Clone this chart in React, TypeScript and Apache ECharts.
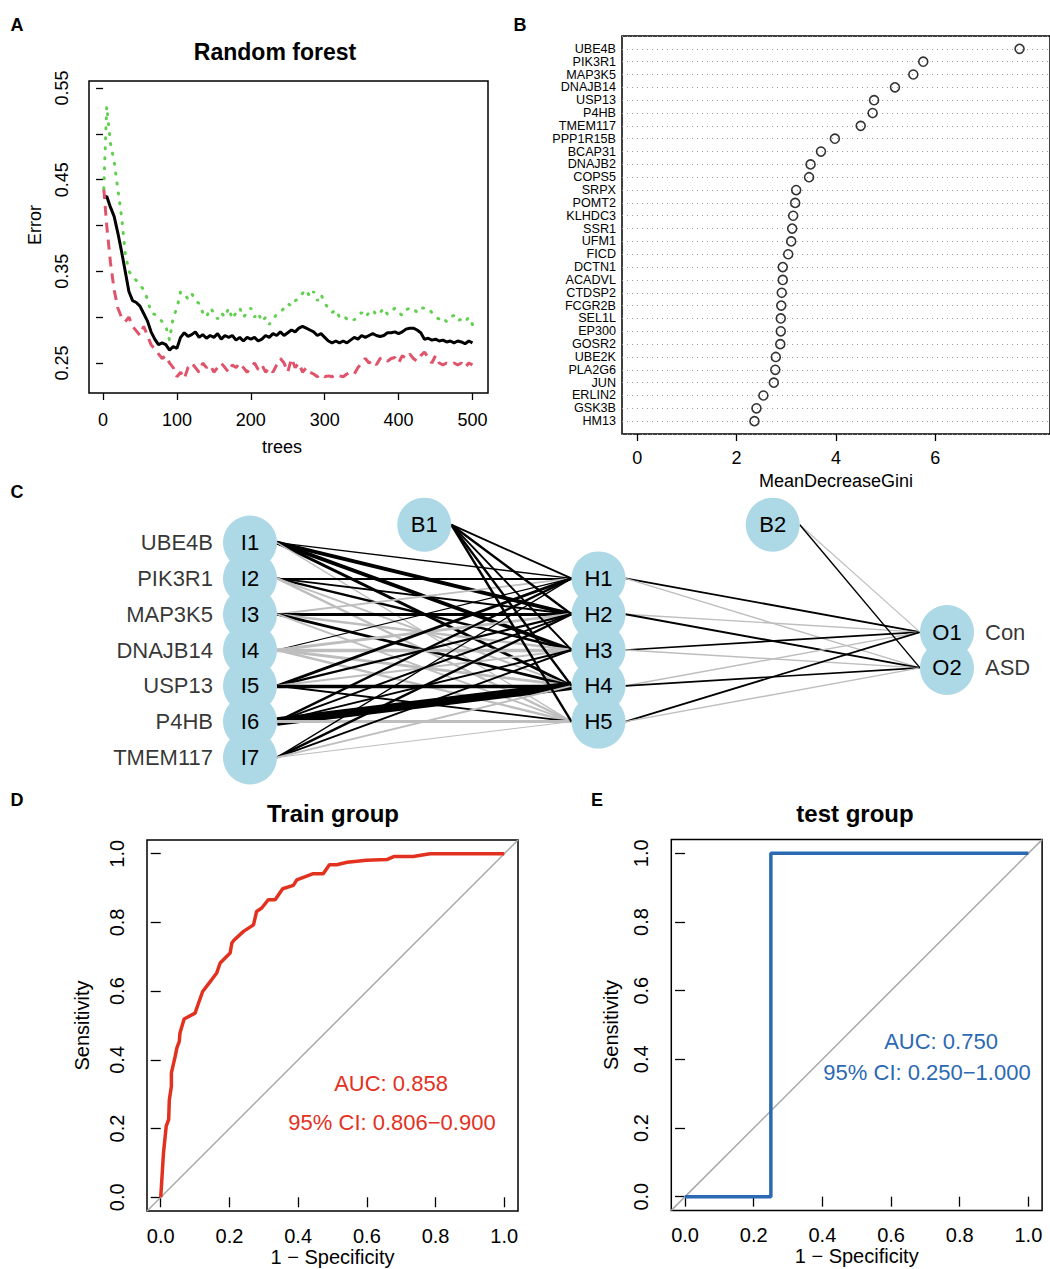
import React, { useEffect, useRef } from 'react';
import * as echarts from 'echarts';

const FONT = '"Liberation Sans", Arial, Helvetica, sans-serif';

// ---------- Panel A: Random forest error ----------
const TREES = [1, 5, 10, 15, 20, 25, 30, 35, 40, 45, 50, 55, 60, 65, 70, 75, 80, 85, 90, 95,
  100, 105, 110, 115, 120, 125, 130, 135, 140, 145, 150, 155, 160, 165, 170, 175, 180, 185, 190, 195,
  200, 205, 210, 215, 220, 225, 230, 235, 240, 245, 250, 255, 260, 265, 270, 275, 280, 285, 290, 295,
  300, 305, 310, 315, 320, 325, 330, 335, 340, 345, 350, 355, 360, 365, 370, 375, 380, 385, 390, 395,
  400, 405, 410, 415, 420, 425, 430, 435, 440, 445, 450, 455, 460, 465, 470, 475, 480, 485, 490, 495, 500];
const OOB_ERR = [0.430, 0.432, 0.420, 0.410, 0.392, 0.372, 0.350, 0.328, 0.318, 0.316,
  0.312, 0.304, 0.296, 0.284, 0.276, 0.270, 0.272, 0.270, 0.264, 0.268,
  0.266, 0.278, 0.283, 0.279, 0.281, 0.284, 0.278, 0.281, 0.277, 0.280,
  0.278, 0.282, 0.276, 0.280, 0.278, 0.280, 0.275, 0.278, 0.274, 0.278,
  0.276, 0.278, 0.274, 0.276, 0.280, 0.278, 0.282, 0.280, 0.284, 0.280,
  0.283, 0.286, 0.284, 0.288, 0.290, 0.288, 0.286, 0.284, 0.280, 0.282,
  0.278, 0.274, 0.272, 0.274, 0.272, 0.274, 0.272, 0.275, 0.278, 0.276,
  0.280, 0.278, 0.280, 0.282, 0.280, 0.279, 0.280, 0.283, 0.283, 0.284,
  0.282, 0.284, 0.287, 0.288, 0.288, 0.286, 0.283, 0.276, 0.277, 0.275,
  0.276, 0.274, 0.275, 0.273, 0.274, 0.272, 0.274, 0.273, 0.271, 0.274, 0.272];
const CON_ERR = [0.440, 0.400, 0.360, 0.330, 0.310, 0.300, 0.295, 0.300, 0.290, 0.285,
  0.280, 0.290, 0.280, 0.270, 0.265, 0.260, 0.255, 0.258, 0.250, 0.245,
  0.235, 0.240, 0.233, 0.245, 0.250, 0.245, 0.240, 0.250, 0.245, 0.248,
  0.240, 0.245, 0.250, 0.245, 0.240, 0.248, 0.245, 0.250, 0.245, 0.240,
  0.245, 0.250, 0.243, 0.248, 0.240, 0.245, 0.240, 0.248, 0.255, 0.250,
  0.240, 0.255, 0.245, 0.250, 0.240, 0.245, 0.240, 0.238, 0.235, 0.238,
  0.235, 0.236, 0.235, 0.238, 0.236, 0.235, 0.238, 0.240, 0.238, 0.245,
  0.250, 0.255, 0.250, 0.253, 0.248, 0.255, 0.256, 0.252, 0.255, 0.256,
  0.250, 0.258, 0.255, 0.260, 0.255, 0.252, 0.258, 0.262, 0.256, 0.250,
  0.258, 0.250, 0.248, 0.250, 0.248, 0.250, 0.248, 0.250, 0.245, 0.250, 0.248];
const ASD_ERR = [0.440, 0.530, 0.490, 0.470, 0.440, 0.410, 0.370, 0.350, 0.345, 0.340,
  0.335, 0.330, 0.320, 0.305, 0.303, 0.300, 0.295, 0.290, 0.275, 0.300,
  0.310, 0.328, 0.325, 0.320, 0.326, 0.318, 0.315, 0.305, 0.300, 0.310,
  0.305, 0.298, 0.305, 0.300, 0.310, 0.298, 0.305, 0.310, 0.300, 0.305,
  0.310, 0.300, 0.305, 0.295, 0.300, 0.292, 0.298, 0.303, 0.305, 0.310,
  0.315, 0.312, 0.318, 0.320, 0.326, 0.330, 0.322, 0.328, 0.318, 0.325,
  0.315, 0.310, 0.305, 0.308, 0.300, 0.302, 0.298, 0.300, 0.297, 0.302,
  0.305, 0.300, 0.305, 0.308, 0.302, 0.305, 0.310, 0.303, 0.306, 0.310,
  0.305, 0.302, 0.308, 0.310, 0.310, 0.305, 0.310, 0.310, 0.310, 0.305,
  0.300, 0.298, 0.300, 0.295, 0.300, 0.302, 0.296, 0.298, 0.295, 0.300, 0.292];
const A_X_TICKS = [0, 100, 200, 300, 400, 500];
const A_Y_TICKS = [0.25, 0.30, 0.35, 0.40, 0.45, 0.50, 0.55];
const A_Y_LABELS = [0.25, 0.35, 0.45, 0.55];

// ---------- Panel B: MeanDecreaseGini ----------
const GENES = ['UBE4B', 'PIK3R1', 'MAP3K5', 'DNAJB14', 'USP13', 'P4HB', 'TMEM117', 'PPP1R15B',
  'BCAP31', 'DNAJB2', 'COPS5', 'SRPX', 'POMT2', 'KLHDC3', 'SSR1', 'UFM1', 'FICD', 'DCTN1',
  'ACADVL', 'CTDSP2', 'FCGR2B', 'SEL1L', 'EP300', 'GOSR2', 'UBE2K', 'PLA2G6', 'JUN', 'ERLIN2',
  'GSK3B', 'HM13'];
const GINI = [7.70, 5.76, 5.56, 5.19, 4.77, 4.74, 4.50, 3.98, 3.70, 3.49, 3.46, 3.20, 3.18, 3.14,
  3.12, 3.10, 3.04, 2.93, 2.93, 2.91, 2.90, 2.89, 2.89, 2.88, 2.79, 2.78, 2.75, 2.54, 2.40, 2.36];
const B_X_TICKS = [0, 2, 4, 6];

// ---------- Panel C: neural network ----------
const INPUT_NAMES = ['UBE4B', 'PIK3R1', 'MAP3K5', 'DNAJB14', 'USP13', 'P4HB', 'TMEM117'];
const OUTPUT_NAMES = ['Con', 'ASD'];
const N_HIDDEN = 5;
const W_IH = [
  [1.5, 4, 4, 3, -1.5],
  [2, 2, 2.5, -2, -2.5],
  [-2, 3, -2.5, 3, -2],
  [1.2, -3, -3.5, -3, -2.5],
  [3, 2.5, -2, 3.5, 2],
  [2.5, 2, 2, 9, -3],
  [1.5, 2.5, 2, -2, -1],
];
const W_B1H = [2, 2.5, 2, 2.5, 2.5];
const W_HO = [[2, -1.5], [-1.5, 2], [1.8, -1.5], [-1.5, 1.8], [1.8, -1.5]];
const W_B2O = [-1.2, 1.5];

// ---------- Panels D, E: ROC ----------
const TRAIN_FPR = [0, 0.008, 0.016, 0.023, 0.025, 0.031, 0.031, 0.042, 0.047, 0.054, 0.056, 0.068, 0.100,
  0.105, 0.122, 0.148, 0.163, 0.173, 0.202, 0.207, 0.213, 0.241, 0.270, 0.279, 0.294, 0.313, 0.333, 0.355,
  0.386, 0.396, 0.444, 0.473, 0.491, 0.512, 0.543, 0.599, 0.658, 0.680, 0.735, 0.784, 1.0];
const TRAIN_SENS = [0, 0.129, 0.207, 0.226, 0.284, 0.323, 0.362, 0.410, 0.435, 0.454, 0.478, 0.519, 0.536,
  0.551, 0.599, 0.633, 0.653, 0.682, 0.711, 0.740, 0.748, 0.774, 0.793, 0.832, 0.842, 0.866, 0.866, 0.898,
  0.908, 0.924, 0.942, 0.942, 0.968, 0.968, 0.975, 0.981, 0.983, 0.992, 0.992, 1.0, 1.0];
const TEST_FPR = [0, 0.25, 0.25, 1];
const TEST_SENS = [0, 0, 1, 1];
const ROC_TICKS = [0, 0.2, 0.4, 0.6, 0.8, 1.0];
const ROC_LIM = [-0.04, 1.04];

const RED = '#E3311F';
const BLUE = '#2B69B2';

const zip = (a: number[], b: number[]) => a.map((v, i) => [v, b[i]]);

function txt(x: number, y: number, text: string, size: number, o: any = {}) {
  return {
    type: 'text', x, y, rotation: o.rotation || 0, z: 20,
    style: {
      text, fill: o.fill || '#000',
      font: `${o.bold ? 'bold ' : ''}${size}px ${FONT}`,
      textAlign: o.align || 'center', textVerticalAlign: 'middle',
    },
  };
}

const tickStyle = { show: true, length: 7, lineStyle: { color: '#000', width: 1.3 } };

function buildOption() {
  // network layout (layer index on x, centred node index on y)
  const R = 27 / 348.5;
  const off = (n: number, i: number) => i - (n - 1) / 2;
  const inNodes = INPUT_NAMES.map((nm, i) => ({ name: 'I' + (i + 1), value: [0, off(INPUT_NAMES.length, i)] }));
  const hidNodes = Array.from({ length: N_HIDDEN }, (_, j) => ({ name: 'H' + (j + 1), value: [1, off(N_HIDDEN, j)] }));
  const outNodes = OUTPUT_NAMES.map((nm, k) => ({ name: 'O' + (k + 1), value: [2, off(OUTPUT_NAMES.length, k)] }));
  const biasY = -INPUT_NAMES.length / 2;
  const biasNodes = [{ name: 'B1', value: [0.5, biasY] }, { name: 'B2', value: [1.5, biasY] }];
  const edge = (a: number[], b: number[], w: number) => ({
    coords: [[a[0] + R, a[1]], [b[0] - R, b[1]]],
    lineStyle: { color: w > 0 ? '#000' : '#BEBEBE', width: Math.max(1, Math.abs(w) * 0.95), opacity: 1 },
  });
  const edges: any[] = [];
  W_IH.forEach((row, i) => row.forEach((w, j) => edges.push(edge(inNodes[i].value, hidNodes[j].value, w))));
  W_B1H.forEach((w, j) => edges.push(edge(biasNodes[0].value, hidNodes[j].value, w)));
  W_HO.forEach((row, j) => row.forEach((w, k) => edges.push(edge(hidNodes[j].value, outNodes[k].value, w))));
  W_B2O.forEach((w, k) => edges.push(edge(biasNodes[1].value, outNodes[k].value, w)));

  const rocX = (gi: number) => ({
    gridIndex: gi, type: 'value', min: ROC_LIM[0], max: ROC_LIM[1],
    name: '1 \u2212 Specificity', nameLocation: 'middle', nameGap: 36,
    nameTextStyle: { fontSize: 20, color: '#000', fontFamily: FONT },
    axisLine: { show: false }, splitLine: { show: false },
    axisTick: { ...tickStyle, length: 10, customValues: ROC_TICKS },
    axisLabel: { customValues: ROC_TICKS, formatter: (v: number) => v.toFixed(1), fontSize: 20, color: '#000', margin: 15, fontFamily: FONT },
  });
  const rocY = (gi: number, gap: number) => ({
    gridIndex: gi, type: 'value', min: ROC_LIM[0], max: ROC_LIM[1],
    name: 'Sensitivity', nameLocation: 'middle', nameGap: gap, nameRotate: 90,
    nameTextStyle: { fontSize: 20, color: '#000', fontFamily: FONT },
    axisLine: { show: false }, splitLine: { show: false },
    axisTick: { ...tickStyle, length: 10, customValues: ROC_TICKS },
    axisLabel: { customValues: ROC_TICKS, rotate: 90, formatter: (v: number) => v.toFixed(1), fontSize: 20, color: '#000', margin: 20, fontFamily: FONT },
  });

  return {
    animation: false,
    backgroundColor: '#fff',
    textStyle: { fontFamily: FONT },
    grid: [
      { left: 89, top: 81, width: 399, height: 312, show: true, borderColor: '#000', borderWidth: 1.5 },
      { left: 622, top: 36, width: 450, height: 398, show: true, borderColor: '#000', borderWidth: 1.5 },
      { left: 75.75, top: 488.9, width: 940.95, height: 322.2, show: false },
      { left: 147, top: 840, width: 371, height: 371, show: true, borderColor: '#000', borderWidth: 1.5 },
      { left: 671.3, top: 839.6, width: 370.8, height: 370.8, show: true, borderColor: '#000', borderWidth: 1.5 },
    ],
    xAxis: [
      {
        gridIndex: 0, type: 'value', min: -19, max: 521,
        axisLine: { show: false }, splitLine: { show: false },
        axisTick: { ...tickStyle, customValues: A_X_TICKS },
        axisLabel: { customValues: A_X_TICKS, fontSize: 18, color: '#000', margin: 18, fontFamily: FONT },
      },
      {
        gridIndex: 1, type: 'value', min: -0.308, max: 8.313,
        name: 'MeanDecreaseGini', nameLocation: 'middle', nameGap: 38,
        nameTextStyle: { fontSize: 18, color: '#000', fontFamily: FONT },
        axisLine: { show: false }, splitLine: { show: false },
        axisTick: { ...tickStyle, customValues: B_X_TICKS },
        axisLabel: { customValues: B_X_TICKS, fontSize: 18, color: '#000', margin: 15, fontFamily: FONT },
      },
      { gridIndex: 2, type: 'value', min: -0.5, max: 2.2, show: false },
      rocX(3),
      rocX(4),
    ],
    yAxis: [
      {
        gridIndex: 0, type: 'value', min: 0.2173, max: 0.5576,
        axisLine: { show: false }, splitLine: { show: false },
        axisTick: { ...tickStyle, customValues: A_Y_TICKS },
        axisLabel: { customValues: A_Y_LABELS, rotate: 90, formatter: (v: number) => v.toFixed(2), fontSize: 18, color: '#000', margin: 18, fontFamily: FONT },
      },
      {
        gridIndex: 1, type: 'value', min: 0, max: GENES.length + 1, interval: 1,
        axisLine: { show: false }, axisTick: { show: false },
        splitLine: { show: true, lineStyle: { type: [1, 4], color: '#9A9A9A', width: 1 } },
        axisLabel: {
          fontSize: 12.6, lineHeight: 12.6, color: '#000', margin: 6, fontFamily: FONT,
          formatter: (v: number) => (v >= 1 && v <= GENES.length ? GENES[GENES.length - v] : ''),
        },
      },
      { gridIndex: 2, type: 'value', min: -4.5, max: 4.5, inverse: true, show: false },
      rocY(3, 55),
      rocY(4, 50),
    ],
    series: [
      // Panel A
      { type: 'line', xAxisIndex: 0, yAxisIndex: 0, showSymbol: false, z: 2, data: zip(TREES, OOB_ERR),
        lineStyle: { color: '#000', width: 3 } },
      { type: 'line', xAxisIndex: 0, yAxisIndex: 0, showSymbol: false, z: 3, data: zip(TREES, CON_ERR),
        lineStyle: { color: '#DF536B', width: 3, type: [10, 7] } },
      { type: 'line', xAxisIndex: 0, yAxisIndex: 0, showSymbol: false, z: 4, data: zip(TREES, ASD_ERR),
        lineStyle: { color: '#61D04F', width: 3, type: [1, 9], cap: 'round' } },
      // Panel B
      { type: 'scatter', xAxisIndex: 1, yAxisIndex: 1, symbol: 'circle', symbolSize: 9, z: 5,
        data: GINI.map((g, i) => [g, GENES.length - i]),
        itemStyle: { color: 'rgba(0,0,0,0)', borderColor: '#000', borderWidth: 1.6 } },
      // Panel C edges
      { type: 'lines', coordinateSystem: 'cartesian2d', xAxisIndex: 2, yAxisIndex: 2, z: 1, data: edges, silent: true },
      // Panel C nodes
      { type: 'scatter', xAxisIndex: 2, yAxisIndex: 2, z: 6, symbol: 'circle', symbolSize: 54,
        data: [...inNodes, ...hidNodes, ...outNodes, ...biasNodes],
        itemStyle: { color: '#ADD8E6', opacity: 1 },
        label: { show: true, position: 'inside', formatter: '{b}', fontSize: 22, color: '#000', fontFamily: FONT } },
      // input / output variable names
      { type: 'scatter', xAxisIndex: 2, yAxisIndex: 2, z: 6, symbol: 'circle', symbolSize: 54,
        data: INPUT_NAMES.map((nm, i) => ({ name: nm, value: inNodes[i].value })),
        itemStyle: { color: 'rgba(0,0,0,0)' },
        label: { show: true, position: 'left', distance: 10, formatter: '{b}', fontSize: 22, color: '#000', fontFamily: FONT } },
      { type: 'scatter', xAxisIndex: 2, yAxisIndex: 2, z: 6, symbol: 'circle', symbolSize: 54,
        data: OUTPUT_NAMES.map((nm, k) => ({ name: nm, value: outNodes[k].value })),
        itemStyle: { color: 'rgba(0,0,0,0)' },
        label: { show: true, position: 'right', distance: 11, formatter: '{b}', fontSize: 22, color: '#000', fontFamily: FONT } },
      // Panel D
      { type: 'line', xAxisIndex: 3, yAxisIndex: 3, showSymbol: false, z: 2, data: [[ROC_LIM[0], ROC_LIM[0]], [ROC_LIM[1], ROC_LIM[1]]],
        lineStyle: { color: '#A8A8A8', width: 1.5 } },
      { type: 'line', xAxisIndex: 3, yAxisIndex: 3, showSymbol: false, z: 3, data: zip(TRAIN_FPR, TRAIN_SENS),
        lineStyle: { color: RED, width: 3.5 } },
      // Panel E
      { type: 'line', xAxisIndex: 4, yAxisIndex: 4, showSymbol: false, z: 2, data: [[ROC_LIM[0], ROC_LIM[0]], [ROC_LIM[1], ROC_LIM[1]]],
        lineStyle: { color: '#A8A8A8', width: 1.5 } },
      { type: 'line', xAxisIndex: 4, yAxisIndex: 4, showSymbol: false, z: 3, data: zip(TEST_FPR, TEST_SENS),
        lineStyle: { color: BLUE, width: 3.5 } },
    ],
    graphic: [
      txt(17, 25, 'A', 18, { bold: true }),
      txt(520, 25, 'B', 18, { bold: true }),
      txt(17, 492, 'C', 18, { bold: true }),
      txt(17, 800, 'D', 18, { bold: true }),
      txt(597, 800, 'E', 18, { bold: true }),
      txt(275, 52, 'Random forest', 23, { bold: true }),
      txt(282, 447, 'trees', 18),
      txt(35, 225, 'Error', 18, { rotation: Math.PI / 2 }),
      txt(333, 813, 'Train group', 24, { bold: true }),
      txt(855, 813, 'test group', 24, { bold: true }),
      txt(391, 1083, 'AUC: 0.858', 22, { fill: RED }),
      txt(392, 1122, '95% CI: 0.806\u22120.900', 22, { fill: RED }),
      txt(941, 1041, 'AUC: 0.750', 22, { fill: BLUE }),
      txt(927, 1072, '95% CI: 0.250\u22121.000', 22, { fill: BLUE }),
    ],
  };
}

export default function App() {
  const ref = useRef<HTMLDivElement>(null);
  useEffect(() => {
    if (!ref.current) return;
    const chart = echarts.init(ref.current, null, { renderer: 'svg' });
    chart.setOption(buildOption() as any);
    return () => chart.dispose();
  }, []);
  return <div ref={ref} style={{ position: 'absolute', left: 0, top: 0, width: 1050, height: 1269 }} />;
}
